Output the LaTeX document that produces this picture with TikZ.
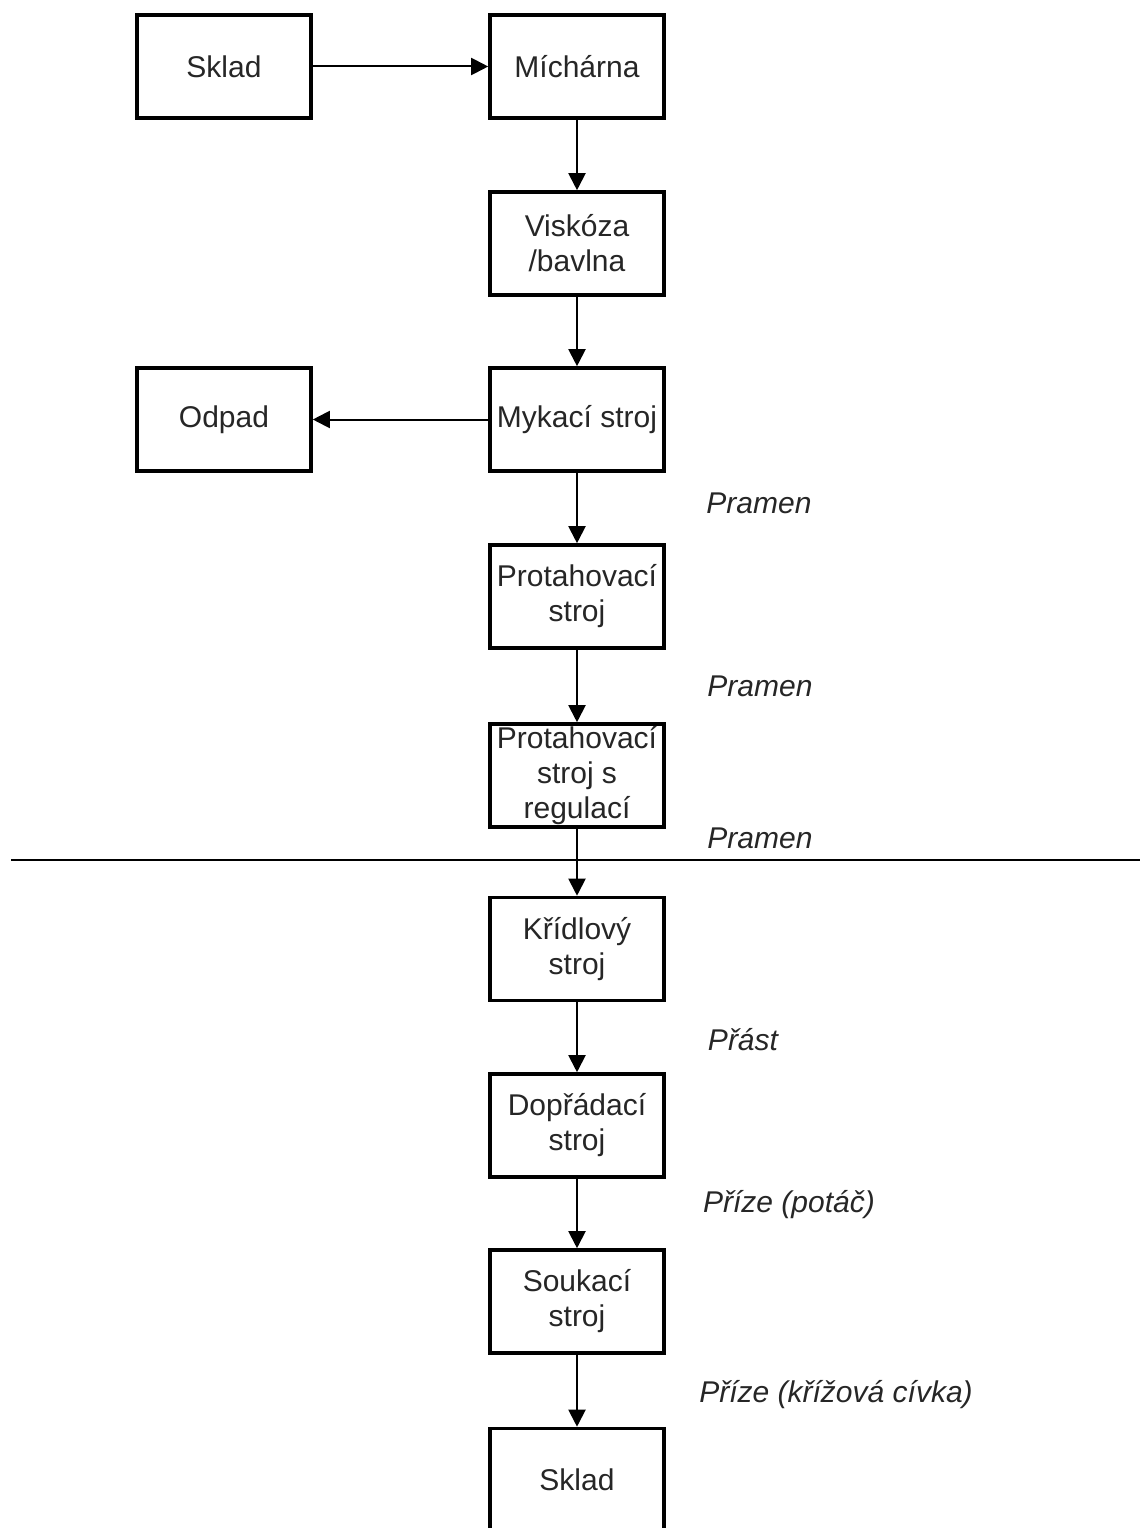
\documentclass[tikz,border=0pt]{standalone}
\usepackage{fontspec}
\setmainfont{Liberation Sans}
\usetikzlibrary{arrows.meta}
\tikzset{
  box/.style={draw, line width=3.6pt, rectangle, minimum width=174pt, minimum height=103pt, inner sep=0pt, align=center, font=\fontsize{30}{35}\selectfont, text=black!85},
  lbl/.style={font=\fontsize{30}{35}\selectfont\itshape, text=black!85, inner sep=0pt},
  arr/.style={line width=2pt, -{Triangle[width=17pt,length=17pt]}}
}
\begin{document}
\begin{tikzpicture}[x=1pt,y=-1pt]
\useasboundingbox (0,0) rectangle (1140,1528);
\clip (0,0) rectangle (1140,1528);
\node[box] (sklad1) at (224,66.5) {Sklad};
\node[box] (mich) at (577,66.5) {Míchárna};
\node[box] (visk) at (577,243.5) {Viskóza\\/bavlna};
\node[box] (myk) at (577,419.5) {Mykací stroj};
\node[box] (odpad) at (224,419.5) {Odpad};
\node[box] (prot1) at (577,596.5) {Protahovací\\stroj};
\node[box] (prot2) at (577,775.5) {Protahovací\\stroj s\\regulací};
\node[box] (krid) at (577,949) {Křídlový\\stroj};
\node[box] (dopr) at (577,1125.5) {Dopřádací\\stroj};
\node[box] (souk) at (577,1301.5) {Soukací\\stroj};
\node[box] (sklad2) at (577,1480) {Sklad};
\node[lbl] (l1) at (759,503) {Pramen};
\node[lbl] (l2) at (760,686) {Pramen};
\node[lbl] (l3) at (760,838) {Pramen};
\node[lbl] (l4) at (743,1040) {Přást};
\node[lbl] (l5) at (789,1205) {Příze (potáč)};
\node[lbl] (l6) at (836,1395) {Příze (křížová cívka)};
\coordinate (hl) at (11,860);
\coordinate (hr) at (1140,860);
\draw[line width=2.2pt] (hl) -- (hr);
\draw[arr] (sklad1) -- (mich);
\draw[arr] (mich) -- (visk);
\draw[arr] (visk) -- (myk);
\draw[arr] (myk) -- (odpad);
\draw[arr] (myk) -- (prot1);
\draw[arr] (prot1) -- (prot2);
\draw[arr] (prot2) -- (krid);
\draw[arr] (krid) -- (dopr);
\draw[arr] (dopr) -- (souk);
\draw[arr] (souk) -- (sklad2);
\end{tikzpicture}
\end{document}
